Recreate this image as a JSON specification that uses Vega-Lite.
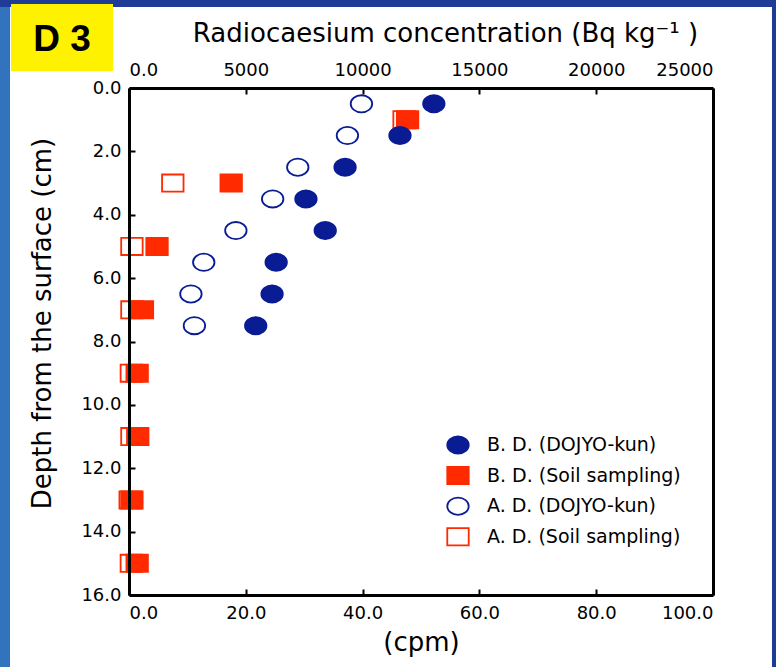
{
  "$schema": "https://vega.github.io/schema/vega-lite/v6.json",
  "width": 584,
  "height": 507,
  "autosize": "none",
  "padding": {"left": 129, "top": 88, "right": 63, "bottom": 72},
  "background": "#1e3c95",
  "config": {
    "view": {"stroke": null},
    "axis": {
      "zindex": 1, "grid": false,
      "domainColor": "black", "domainWidth": 3,
      "tickColor": "black", "tickWidth": 2, "tickSize": -6,
      "labelFont": "DejaVu Sans", "labelFontSize": 18, "labelColor": "black",
      "titleFont": "DejaVu Sans", "titleFontWeight": "normal", "titleColor": "black", "titleFontSize": 26
    },
    "legend": {
      "orient": "none", "legendX": 317, "legendY": 345, "padding": 0,
      "labelFont": "DejaVu Sans", "labelFontSize": 19, "labelColor": "black", "labelLimit": 400,
      "symbolSize": 460, "symbolStrokeWidth": 1.8, "rowPadding": 4.6, "labelOffset": 17
    }
  },
  "datasets": {
    "pts": [
      {"series": "A. D. (Soil sampling)", "depth": 1, "cpm": 47.1},
      {"series": "A. D. (Soil sampling)", "depth": 3, "cpm": 7.5},
      {"series": "A. D. (Soil sampling)", "depth": 5, "cpm": 0.5},
      {"series": "A. D. (Soil sampling)", "depth": 7, "cpm": 0.5},
      {"series": "A. D. (Soil sampling)", "depth": 9, "cpm": 0.4},
      {"series": "A. D. (Soil sampling)", "depth": 11, "cpm": 0.5},
      {"series": "A. D. (Soil sampling)", "depth": 13, "cpm": 0.2},
      {"series": "A. D. (Soil sampling)", "depth": 15, "cpm": 0.4},
      {"series": "A. D. (DOJYO-kun)", "depth": 0.5, "cpm": 39.8},
      {"series": "A. D. (DOJYO-kun)", "depth": 1.5, "cpm": 37.4},
      {"series": "A. D. (DOJYO-kun)", "depth": 2.5, "cpm": 28.9},
      {"series": "A. D. (DOJYO-kun)", "depth": 3.5, "cpm": 24.6},
      {"series": "A. D. (DOJYO-kun)", "depth": 4.5, "cpm": 18.3},
      {"series": "A. D. (DOJYO-kun)", "depth": 5.5, "cpm": 12.8},
      {"series": "A. D. (DOJYO-kun)", "depth": 6.5, "cpm": 10.6},
      {"series": "A. D. (DOJYO-kun)", "depth": 7.5, "cpm": 11.2},
      {"series": "B. D. (Soil sampling)", "depth": 1, "cpm": 47.7},
      {"series": "B. D. (Soil sampling)", "depth": 3, "cpm": 17.5},
      {"series": "B. D. (Soil sampling)", "depth": 5, "cpm": 4.8},
      {"series": "B. D. (Soil sampling)", "depth": 7, "cpm": 2.3},
      {"series": "B. D. (Soil sampling)", "depth": 9, "cpm": 1.4},
      {"series": "B. D. (Soil sampling)", "depth": 11, "cpm": 1.5},
      {"series": "B. D. (Soil sampling)", "depth": 13, "cpm": 0.5},
      {"series": "B. D. (Soil sampling)", "depth": 15, "cpm": 1.4},
      {"series": "B. D. (DOJYO-kun)", "depth": 0.5, "cpm": 52.2},
      {"series": "B. D. (DOJYO-kun)", "depth": 1.5, "cpm": 46.4},
      {"series": "B. D. (DOJYO-kun)", "depth": 2.5, "cpm": 37.0},
      {"series": "B. D. (DOJYO-kun)", "depth": 3.5, "cpm": 30.3},
      {"series": "B. D. (DOJYO-kun)", "depth": 4.5, "cpm": 33.6},
      {"series": "B. D. (DOJYO-kun)", "depth": 5.5, "cpm": 25.2},
      {"series": "B. D. (DOJYO-kun)", "depth": 6.5, "cpm": 24.5},
      {"series": "B. D. (DOJYO-kun)", "depth": 7.5, "cpm": 21.7}
    ],
    "tag": [{"label": "D 3"}]
  },
  "resolve": {"axis": {"x": "independent", "y": "independent"}},
  "layer": [
    {
      "data": {"name": "tag"},
      "mark": {"type": "rect", "fill": "white"},
      "encoding": {
        "x": {"datum": -20.4, "type": "quantitative", "scale": {"domain": [0, 100], "nice": false, "zero": false}, "axis": null},
        "x2": {"datum": 110.1},
        "y": {"datum": -2.556, "type": "quantitative", "scale": {"domain": [0, 16], "nice": false, "zero": false, "reverse": true}, "axis": null},
        "y2": {"datum": 18.3}
      }
    },
    {
      "data": {"name": "tag"},
      "mark": {"type": "rect", "fill": "#3273bd"},
      "encoding": {
        "x": {"datum": -22.2, "type": "quantitative", "scale": {"domain": [0, 100], "nice": false, "zero": false}, "axis": null},
        "x2": {"datum": -20.4},
        "y": {"datum": -2.556, "type": "quantitative", "scale": {"domain": [0, 16], "nice": false, "zero": false, "reverse": true}, "axis": null},
        "y2": {"datum": 18.3}
      }
    },
    {
      "data": {"name": "tag"},
      "mark": {"type": "rect", "fill": "#fff200"},
      "encoding": {
        "x": {"datum": -20.2, "type": "quantitative", "scale": {"domain": [0, 100], "nice": false, "zero": false}, "axis": null},
        "x2": {"datum": -2.74},
        "y": {"datum": -2.65, "type": "quantitative", "scale": {"domain": [0, 16], "nice": false, "zero": false, "reverse": true}, "axis": null},
        "y2": {"datum": -0.536}
      }
    },
    {
      "data": {"name": "tag"},
      "mark": {"type": "text", "font": "Liberation Sans", "fontWeight": "bold", "fontSize": 37, "color": "black", "align": "center", "baseline": "middle"},
      "encoding": {
        "text": {"field": "label"},
        "x": {"datum": -11.47, "type": "quantitative", "scale": {"domain": [0, 100], "nice": false, "zero": false}, "axis": null},
        "y": {"datum": -1.5, "type": "quantitative", "scale": {"domain": [0, 16], "nice": false, "zero": false, "reverse": true}, "axis": null}
      }
    },
    {
      "data": {"name": "pts"},
      "mark": {"type": "point", "opacity": 0},
      "encoding": {
        "x": {"field": "cpm", "type": "quantitative", "scale": {"domain": [0, 100], "nice": false, "zero": false},
          "axis": {"zindex": 2, "orient": "top", "values": [0, 20, 40, 60, 80, 100], "labelExpr": "datum.value == 0 ? '0.0' : format(datum.value * 250, 'd')", "labelPadding": 15, "title": "Radiocaesium concentration (Bq kg⁻¹ )", "titlePadding": 15, "titleX": 316}},
        "y": {"field": "depth", "type": "quantitative", "scale": {"domain": [0, 16], "nice": false, "zero": false, "reverse": true},
          "axis": {"zindex": 2, "orient": "right", "labels": false, "ticks": false, "title": null}}
      }
    },
    {
      "data": {"name": "pts"},
      "mark": {"type": "point", "filled": true, "opacity": 1, "strokeWidth": 1.8, "size": 460},
      "encoding": {
        "x": {"field": "cpm", "type": "quantitative", "scale": {"domain": [0, 100], "nice": false, "zero": false},
          "axis": {"zindex": 2, "orient": "bottom", "values": [0, 20, 40, 60, 80, 100], "format": ".1f", "labelPadding": 15, "title": "(cpm)", "titlePadding": 7}},
        "y": {"field": "depth", "type": "quantitative", "scale": {"domain": [0, 16], "nice": false, "zero": false, "reverse": true},
          "axis": {"zindex": 2, "orient": "left", "values": [0, 2, 4, 6, 8, 10, 12, 14, 16], "format": ".1f", "labelPadding": 14, "title": "Depth from the surface (cm)", "titlePadding": 25, "titleY": 235}},
        "fill": {"field": "series", "type": "nominal",
          "scale": {"domain": ["B. D. (DOJYO-kun)", "B. D. (Soil sampling)", "A. D. (DOJYO-kun)", "A. D. (Soil sampling)"], "range": ["#0a1c94", "#ff2a00", "white", "white"]},
          "legend": {"title": null}},
        "stroke": {"field": "series", "type": "nominal",
          "scale": {"domain": ["B. D. (DOJYO-kun)", "B. D. (Soil sampling)", "A. D. (DOJYO-kun)", "A. D. (Soil sampling)"], "range": ["#0a1c94", "#ff2a00", "#0a1c94", "#ff2a00"]},
          "legend": {"title": null}},
        "shape": {"field": "series", "type": "nominal",
          "scale": {"domain": ["B. D. (DOJYO-kun)", "B. D. (Soil sampling)", "A. D. (DOJYO-kun)", "A. D. (Soil sampling)"],
            "range": ["M-1,0A1,0.8,0,1,1,1,0A1,0.8,0,1,1,-1,0Z", "M-1,-0.8H1V0.8H-1Z", "M-1,0A1,0.8,0,1,1,1,0A1,0.8,0,1,1,-1,0Z", "M-1,-0.8H1V0.8H-1Z"]},
          "legend": {"title": null}}
      }
    }
  ]
}
